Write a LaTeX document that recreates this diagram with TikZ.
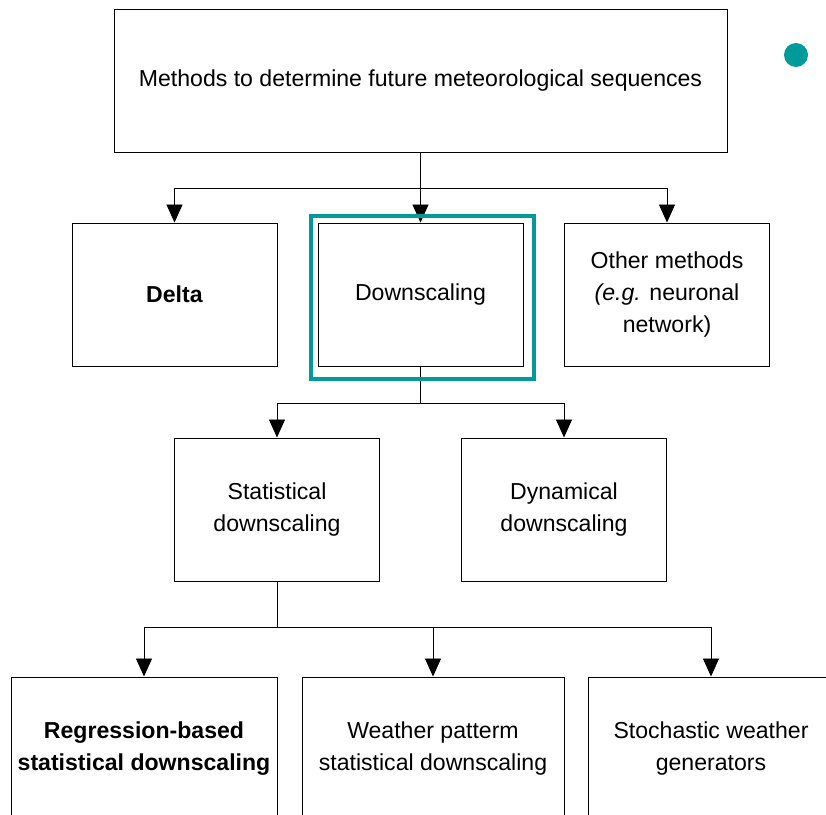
\documentclass[tikz,border=0pt]{standalone}
\usepackage{fontspec}
\setmainfont{Liberation Sans}
\definecolor{teal1}{HTML}{009A9A}
\usetikzlibrary{arrows.meta,positioning,calc}

\begin{document}
\begin{tikzpicture}[
  x=0.03cm, y=-0.03cm,
  box/.style={draw, line width=0.8pt, align=center, inner sep=2pt,
              font=\fontsize{19.7}{27.3}\selectfont,
              minimum height=4.29cm, minimum width=6.15cm},
  ar/.style ={-{Triangle[length=0.54cm, width=0.48cm]}, line width=0.8pt},
  hl/.style ={draw=teal1, line width=3.4pt},
]
  \useasboundingbox (0,0) rectangle (826,815);

  % ---- top level ----
  \node[box, minimum width=18.39cm] (top) at (420.5,80.5)
        {Methods to determine future meteorological sequences};
  \fill[teal1] (796,55) circle[radius=0.36cm];

  % ---- second row ----
  \node[box] (delta) at (174.5,294.5) {\textbf{Delta}};
  \node[box] (down)  at (420.5,294.5) {Downscaling};
  \node[box] (other) at (667,294.5)   {Other methods\\\textit{(e.g.} neuronal\\network)};

  % ---- third row ----
  \node[box] (stat) at (277,509.5) {Statistical\\downscaling};
  \node[box] (dyn)  at (564,509.5) {Dynamical\\downscaling};

  % ---- bottom row (cut by the page) ----
  \node[box, minimum width=7.98cm] (regr)  at (144,748.5)
        {\textbf{Regression-based}\\\textbf{statistical downscaling}};
  \node[box, minimum width=7.86cm] (weath) at (433,748.5)
        {Weather patterm\\statistical downscaling};
  \node[box, minimum width=7.38cm] (stoch) at (711,748.5)
        {Stochastic weather\\generators};

  % ---- branch points ----
  \coordinate (b1) at ($(top.south)+(0,36)$);
  \coordinate (b2) at ($(down.south)+(0,37)$);
  \coordinate (b3) at ($(stat.south)+(0,46)$);

  % ---- connectors ----
  \draw[line width=0.8pt] (top) -- (b1);
  \draw[ar] (b1) -| (delta);
  \draw[ar] (b1) -- (down);
  \draw[ar] (b1) -| (other);

  \draw[line width=0.8pt] (down) -- (b2);
  \draw[ar] (b2) -| (stat);
  \draw[ar] (b2) -| (dyn);

  \draw[line width=0.8pt] (stat) -- (b3);
  \draw[ar] (b3) -| (regr);
  \draw[ar] (b3) -| (weath);
  \draw[ar] (b3) -| (stoch);

  % ---- highlight frame ----
  \draw[hl] ($(down.north west)+(-7,-7)$) rectangle ($(down.south east)+(11,13)$);
\end{tikzpicture}
\end{document}
